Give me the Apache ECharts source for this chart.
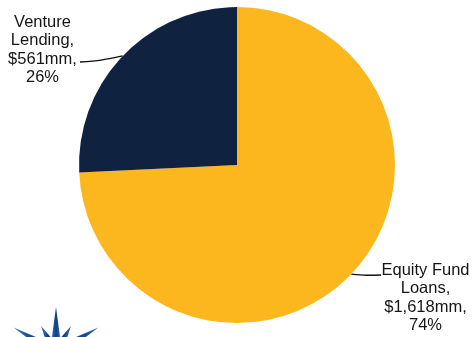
<!DOCTYPE html>
<html>
<head>
<meta charset="utf-8">
<script src="https://cdn.jsdelivr.net/npm/echarts@6/dist/echarts.min.js"></script>
<style>
  html, body { margin: 0; padding: 0; background: #ffffff; }
  #chart { width: 474px; height: 337px; }
</style>
</head>
<body>
<div id="chart"></div>
<script>
// Portfolio split by loan type ($mm)
const categories = ['Equity Fund Loans', 'Venture Lending'];
const amounts = [1618, 561];
const sliceColors = ['#FDB71E', '#0F2340'];

// Where each label block sits and where its leader line ends
const labelSpots = [
  { cx: 425.5, cy: 298, bend: [366, 275.5], end: [381, 275] },
  { cx: 42.5, cy: 50, bend: [101, 60.5], end: [80, 62] }
];

const PIE_CENTER = [237, 165];
const PIE_RADIUS = 158;

function splitName(name) {
  const i = name.lastIndexOf(' ');
  return i > 0 ? name.slice(0, i) + '\n' + name.slice(i + 1) : name;
}

function fmtMoney(v) {
  return '$' + v.toLocaleString('en-US') + 'mm';
}

// point on the rim at the middle angle of a slice (clockwise from 12 o'clock)
function rimPoint(idx) {
  const total = amounts.reduce((a, b) => a + b, 0);
  let before = 0;
  for (let i = 0; i < idx; i++) before += amounts[i];
  const midFrac = (before + amounts[idx] / 2) / total;
  const ang = Math.PI / 2 - midFrac * Math.PI * 2;
  return [PIE_CENTER[0] + PIE_RADIUS * Math.cos(ang), PIE_CENTER[1] - PIE_RADIUS * Math.sin(ang)];
}

// compass-star emblem, bottom-left corner
function starSpikes() {
  const c = [56, 352];
  const spikes = [
    { a: 0, len: 45, w: 4.5 },
    { a: -30, len: 30, w: 3.6 },
    { a: 30, len: 30, w: 3.6 },
    { a: -60, len: 49, w: 4.5 },
    { a: 60, len: 49, w: 4.5 }
  ];
  return spikes.map(s => {
    const r = s.a * Math.PI / 180;
    const dx = Math.sin(r), dy = -Math.cos(r);
    const px = Math.cos(r), py = Math.sin(r);
    const tip = [c[0] + dx * s.len, c[1] + dy * s.len];
    const b1 = [c[0] + dx * 12 + px * s.w, c[1] + dy * 12 + py * s.w];
    const b2 = [c[0] + dx * 12 - px * s.w, c[1] + dy * 12 - py * s.w];
    return {
      type: 'polygon',
      silent: true,
      shape: { points: [tip, b1, [c[0], c[1]], b2] },
      style: {
        fill: new echarts.graphic.LinearGradient(0, 0, 1, 0, [
          { offset: 0, color: '#3a78b8' },
          { offset: 0.5, color: '#0d3f80' },
          { offset: 1, color: '#2f6cb0' }
        ])
      }
    };
  });
}

const chart = echarts.init(document.getElementById('chart'), null, { renderer: 'canvas' });

chart.setOption({
  backgroundColor: '#ffffff',
  animation: false,
  graphic: starSpikes(),
  series: [{
    type: 'pie',
    center: PIE_CENTER,
    radius: PIE_RADIUS,
    startAngle: 90,
    clockwise: true,
    silent: true,
    data: categories.map((name, i) => ({
      name: name,
      value: amounts[i],
      itemStyle: { color: sliceColors[i] }
    })),
    label: {
      show: true,
      position: 'outside',
      overflow: 'none',
      fontFamily: 'Liberation Sans, Arial, sans-serif',
      fontSize: 16.5,
      lineHeight: 18.5,
      color: '#151515',
      align: 'center',
      formatter: p => splitName(p.name) + ',\n' + fmtMoney(p.value) + ',\n' + Math.round(p.percent) + '%'
    },
    labelLine: {
      show: true,
      smooth: 0.3,
      lineStyle: { color: '#111111', width: 1.4 }
    },
    labelLayout: function (p) {
      const s = labelSpots[p.dataIndex];
      const start = rimPoint(p.dataIndex);
      return {
        x: s.cx,
        y: s.cy,
        align: 'center',
        verticalAlign: 'middle',
        labelLinePoints: [start, s.bend, s.end]
      };
    }
  }]
});
</script>
</body>
</html>
